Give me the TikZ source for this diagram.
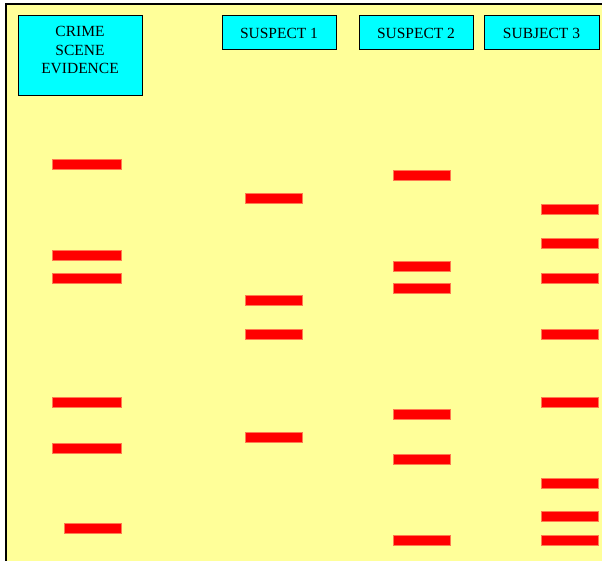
\documentclass[tikz,border=0pt]{standalone}
\usepackage{fontspec}
\setmainfont{Liberation Serif}
\definecolor{bgyellow}{HTML}{FFFF99}
\definecolor{boxcyan}{HTML}{00FFFF}
\definecolor{bandred}{HTML}{FF0000}
\definecolor{bandedge}{HTML}{FF7A50}
\begin{document}
\begin{tikzpicture}[x=1pt,y=-1pt,
  header/.style={draw=black,line width=1pt,fill=boxcyan,inner sep=0pt,
    font=\fontsize{15.5}{18.5}\selectfont,align=center},
  htext/.style={inner sep=0pt,font=\fontsize{15.5}{18.5}\selectfont,align=center},
  band/.style={draw=bandedge,line width=0.6pt,fill=bandred,inner sep=0pt,
    minimum height=10pt,anchor=west}]
\useasboundingbox (0,0) rectangle (602,561);
\fill[white] (0,0) rectangle (602,561);
\fill[bgyellow] (6,4) rectangle (602,561);
\draw[black,line width=1.2pt] (6,561) -- (6,4) -- (602,4);
% headers
\node[header,minimum width=124pt,minimum height=80pt] (crime) at (80,56) {};
\node[htext] (crimetext) at (80,50) {CRIME\\SCENE\\EVIDENCE};
\node[header,minimum width=114pt,minimum height=34pt] (s1) at (279,33) {SUSPECT 1};
\node[header,minimum width=114pt,minimum height=34pt] (s2) at (416,33) {SUSPECT 2};
\node[header,minimum width=115pt,minimum height=34pt] (s3) at (541.5,33) {SUBJECT 3};
% crime scene bands
\foreach \y [count=\i] in {164,255,278,402,448.5}
  \node[band,minimum width=69pt] (c\i) at (52,\y) {};
\node[band,minimum width=57pt] (c6) at (64,528) {};
% suspect 1
\foreach \y [count=\i] in {198,300,334,437}
  \node[band,minimum width=57pt] (a\i) at (245,\y) {};
% suspect 2
\foreach \y [count=\i] in {175,266,288,414,459,540}
  \node[band,minimum width=57pt] (b\i) at (393,\y) {};
% subject 3
\foreach \y [count=\i] in {209,243.5,278,334,402,483,516,540}
  \node[band,minimum width=57pt] (d\i) at (541,\y) {};
\end{tikzpicture}
\end{document}
